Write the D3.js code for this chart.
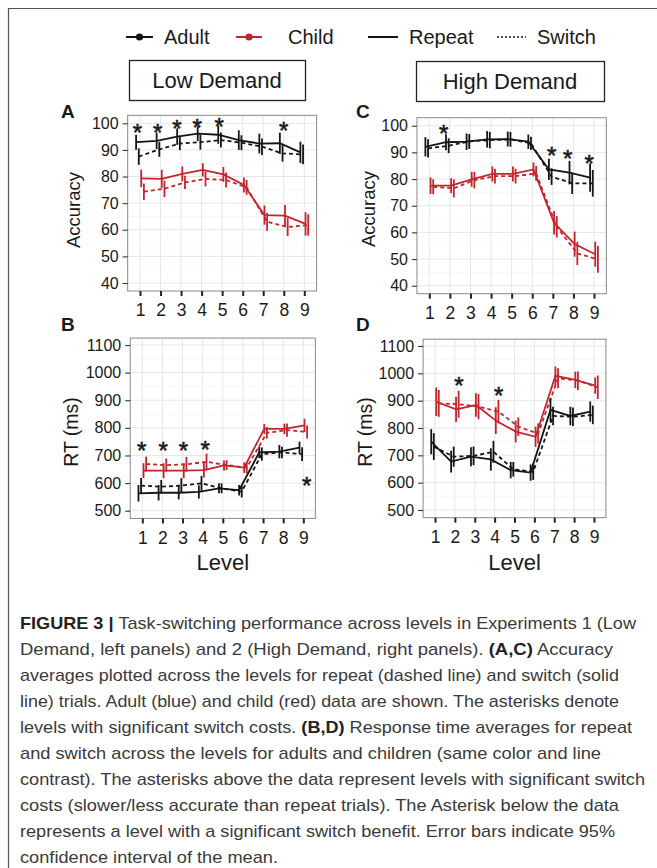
<!DOCTYPE html>
<html>
<head>
<meta charset="utf-8">
<script src="https://cdn.jsdelivr.net/npm/d3@7"></script>
<style>
  html, body { margin: 0; padding: 0; background: #fff; }
  svg { display: block; }
</style>
</head>
<body>
<svg id="chart" width="657" height="868"></svg>
<script>
// ---------------- DATA ----------------
const levels = [1, 2, 3, 4, 5, 6, 7, 8, 9];
const accTicks = [40, 50, 60, 70, 80, 90, 100];
const accMinor = [45, 55, 65, 75, 85, 95];
const rtTicks = [500, 600, 700, 800, 900, 1000, 1100];
const rtMinor = [550, 650, 750, 850, 950, 1050];

// Panel A: Low Demand, accuracy (%)
const accLowAdultRepeat   = [92.9, 93.4, 95.0, 96.1, 95.7, 93.7, 92.4, 92.5, 89.1];
const accLowAdultRepeatCI = [2.8, 3.1, 3.1, 2.8, 3.4, 3.7, 3.7, 4.0, 4.0];
const accLowAdultSwitch   = [87.5, 90.2, 92.4, 92.9, 93.7, 92.7, 91.2, 88.7, 88.3];
const accLowAdultSwitchCI = [3.1, 2.8, 2.5, 2.8, 2.8, 2.8, 3.1, 3.1, 3.7];
const accLowChildRepeat   = [79.3, 79.1, 81.0, 82.5, 80.8, 76.8, 65.5, 65.3, 62.2];
const accLowChildRepeatCI = [3.3, 3.4, 2.8, 2.5, 2.8, 2.8, 3.6, 4.0, 4.4];
const accLowChildSwitch   = [74.3, 75.4, 77.8, 79.1, 78.7, 75.9, 63.0, 61.0, 61.8];
const accLowChildSwitchCI = [3.1, 3.1, 2.5, 2.8, 2.8, 2.8, 3.4, 3.4, 4.0];
const starsALevel = [0.87, 1.86, 2.8, 3.78, 4.85, 8.0];
const starsAValue = [98.7, 98.7, 99.9, 100.3, 100.8, 99.4];

// Panel C: High Demand, accuracy (%)
const accHighAdultRepeat   = [92.1, 93.8, 94.0, 94.9, 95.0, 94.0, 83.6, 82.4, 80.5];
const accHighAdultRepeatCI = [3.6, 3.0, 3.1, 3.1, 2.8, 2.7, 4.0, 4.4, 5.3];
const accHighAdultSwitch   = [91.5, 92.5, 94.1, 94.6, 94.9, 93.4, 80.9, 78.4, 78.4];
const accHighAdultSwitchCI = [3.4, 2.8, 2.8, 3.1, 2.8, 2.5, 3.1, 4.0, 5.0];
const accHighChildRepeat   = [77.5, 77.5, 79.9, 81.9, 81.9, 83.6, 63.6, 55.6, 51.8];
const accHighChildRepeatCI = [3.1, 2.8, 2.8, 2.8, 2.8, 2.6, 4.4, 4.7, 4.7];
const accHighChildSwitch   = [77.1, 76.5, 79.6, 81.1, 81.1, 82.1, 62.1, 52.1, 49.9];
const accHighChildSwitchCI = [2.8, 3.4, 3.1, 2.8, 2.8, 2.8, 4.0, 4.4, 5.0];
const starsCLevel = [1.7, 6.95, 7.72, 8.77];
const starsCValue = [99.0, 90.9, 89.6, 87.8];

// Panel B: Low Demand, RT (ms)
const rtLowAdultRepeat   = [563, 565, 565, 568, 581, 574, 711, 714, 728];
const rtLowAdultRepeatCI = [30, 28, 24, 24, 18, 19, 21, 24, 22];
const rtLowAdultSwitch   = [591, 587, 591, 599, 581, 569, 705, 711, 705];
const rtLowAdultSwitchCI = [27, 24, 27, 27, 18, 21, 24, 21, 25];
const rtLowChildRepeat   = [645, 645, 645, 647, 664, 656, 796, 796, 809];
const rtLowChildRepeatCI = [27, 27, 27, 27, 18, 19, 18, 19, 24];
const rtLowChildSwitch   = [669, 665, 668, 677, 665, 656, 782, 792, 785];
const rtLowChildSwitchCI = [27, 24, 27, 30, 18, 21, 21, 24, 24];
const starsBLevel = [0.97, 2.04, 3.04, 4.12, 9.17];
const starsBValue = [738, 738, 738, 740, 611];

// Panel D: High Demand, RT (ms)
const rtHighAdultRepeat   = [750, 677, 695, 685, 646, 637, 866, 844, 860];
const rtHighAdultRepeatCI = [46, 40, 35, 41, 30, 30, 43, 34, 37];
const rtHighAdultSwitch   = [732, 695, 698, 713, 649, 640, 844, 841, 848];
const rtHighAdultSwitchCI = [49, 37, 34, 40, 27, 30, 34, 34, 34];
const rtHighChildRepeat   = [896, 868, 884, 827, 787, 768, 991, 976, 955];
const rtHighChildRepeatCI = [52, 46, 43, 49, 40, 37, 34, 30, 30];
const rtHighChildSwitch   = [890, 887, 878, 860, 805, 780, 982, 973, 949];
const rtHighChildSwitchCI = [49, 49, 46, 43, 34, 37, 37, 34, 43];
const starsDLevel = [2.2, 4.2];
const starsDValue = [976, 939];

const legendLabels = ["Adult", "Child", "Repeat", "Switch"];
const demandLabels = ["Low Demand", "High Demand"];

// ---------------- STYLE ----------------
const FONT = "'Liberation Sans', Arial, Helvetica, sans-serif";
const INK = "#1a1a1a";
const RED = "#c4252d";
const BLACK = "#151515";

const svg = d3.select("#chart");
svg.append("rect").attr("width", 657).attr("height", 868).attr("fill", "#fff");

// frame
svg.append("path").attr("d", "M8.5,868 L8.5,8.5 L657,8.5")
  .attr("fill", "none").attr("stroke", "#555").attr("stroke-width", 1.2);

// ---------------- LEGEND ----------------
const lg = svg.append("g").attr("font-family", FONT).attr("font-size", 20).attr("fill", INK);
const legY = 37;
const legendItems = [
  {label: legendLabels[0], x0: 126, x1: 153, color: BLACK, dot: true, dash: null, tx: 164},
  {label: legendLabels[1], x0: 236, x1: 262, color: RED, dot: true, dash: null, tx: 288},
  {label: legendLabels[2], x0: 368, x1: 398, color: BLACK, dot: false, dash: null, tx: 409},
  {label: legendLabels[3], x0: 497, x1: 526, color: BLACK, dot: false, dash: "2,2", tx: 537}
];
legendItems.forEach(it => {
  lg.append("line").attr("x1", it.x0).attr("x2", it.x1).attr("y1", legY).attr("y2", legY)
    .attr("stroke", it.color).attr("stroke-width", it.dash ? 1.5 : 2)
    .attr("stroke-dasharray", it.dash);
  if (it.dot) lg.append("circle").attr("cx", (it.x0 + it.x1) / 2).attr("cy", legY).attr("r", 3.6).attr("fill", it.color);
  lg.append("text").attr("x", it.tx).attr("y", legY + 7).text(it.label);
});

// ---------------- DEMAND BOXES ----------------
const boxes = [
  {label: demandLabels[0], x: 129, y: 60, w: 176, h: 40},
  {label: demandLabels[1], x: 416, y: 61, w: 188, h: 40}
];
boxes.forEach(b => {
  svg.append("rect").attr("x", b.x + 0.5).attr("y", b.y + 0.5).attr("width", b.w).attr("height", b.h)
    .attr("fill", "#fff").attr("stroke", "#222").attr("stroke-width", 1.3);
  svg.append("text").attr("x", b.x + b.w / 2).attr("y", b.y + b.h / 2 + 8)
    .attr("text-anchor", "middle").attr("font-family", FONT).attr("font-size", 22).attr("fill", INK)
    .text(b.label);
});

// ---------------- PANELS ----------------
const STAR_SIZE = 24;
function drawPanel(p) {
  const x = d3.scaleLinear().domain([1, 9]).range([p.x1, p.x9]);
  const y = d3.scaleLinear().domain([p.lo, p.hi]).range([p.yLo, p.yHi]);
  const left = x(0.4), right = x(9.6), top = y(p.top), bottom = y(p.bottom);
  const g = svg.append("g");

  // background & grid
  g.append("rect").attr("x", left).attr("y", top).attr("width", right - left).attr("height", bottom - top).attr("fill", "#fff");
  g.selectAll(".minor").data(p.minor).join("line")
    .attr("x1", left).attr("x2", right).attr("y1", d => y(d)).attr("y2", d => y(d))
    .attr("stroke", "#f2f2f2").attr("stroke-width", 0.6);
  g.selectAll(".majy").data(p.ticks).join("line")
    .attr("x1", left).attr("x2", right).attr("y1", d => y(d)).attr("y2", d => y(d))
    .attr("stroke", "#e6e6e6").attr("stroke-width", 1);
  g.selectAll(".majx").data(levels).join("line")
    .attr("x1", d => x(d)).attr("x2", d => x(d)).attr("y1", top).attr("y2", bottom)
    .attr("stroke", "#e6e6e6").attr("stroke-width", 1);

  // series
  p.series.forEach(s => {
    const pts = levels.map((lv, i) => ({lx: lv + s.off, v: s.vals[i], e: s.ci[i]}));
    const line = d3.line().x(d => x(d.lx)).y(d => y(d.v));
    g.append("path").datum(pts).attr("d", line).attr("fill", "none")
      .attr("stroke", s.color).attr("stroke-width", 1.8).attr("stroke-dasharray", s.dash);
    g.selectAll(null).data(pts).join("line")
      .attr("x1", d => x(d.lx)).attr("x2", d => x(d.lx))
      .attr("y1", d => y(d.v - d.e)).attr("y2", d => y(d.v + d.e))
      .attr("stroke", s.color).attr("stroke-width", 1.8);
  });

  // border
  g.append("rect").attr("x", left).attr("y", top).attr("width", right - left).attr("height", bottom - top)
    .attr("fill", "none").attr("stroke", "#8a8a8a").attr("stroke-width", 1);

  // stars
  const stars = p.starLevels.map((lv, i) => ({lv, v: p.starValues[i]}));
  g.selectAll(null).data(stars).join("text")
    .attr("x", d => x(d.lv)).attr("y", d => y(d.v) + STAR_SIZE * 0.58)
    .attr("text-anchor", "middle").attr("font-family", FONT).attr("font-size", STAR_SIZE)
    .attr("fill", INK).attr("stroke", INK).attr("stroke-width", 0.6)
    .text("*");

  // axes
  const ya = g.append("g").attr("transform", `translate(${left},0)`)
    .call(d3.axisLeft(y).tickValues(p.ticks).tickSize(5).tickPadding(4).tickFormat(d3.format("d")));
  ya.select(".domain").remove();
  ya.selectAll("line").attr("stroke", "#333").attr("stroke-width", 1.1);
  ya.selectAll("text").attr("font-family", FONT).attr("font-size", p.yFont).attr("fill", INK);

  const xa = g.append("g").attr("transform", `translate(0,${bottom})`)
    .call(d3.axisBottom(x).tickValues(levels).tickSize(5).tickPadding(8).tickFormat(d3.format("d")));
  xa.select(".domain").remove();
  xa.selectAll("line").attr("stroke", "#222").attr("stroke-width", 2);
  xa.selectAll("text").attr("font-family", FONT).attr("font-size", 17.5).attr("fill", INK);

  // axis title
  g.append("text").attr("transform", `translate(${p.titleX},${p.titleY}) rotate(-90)`)
    .attr("text-anchor", "middle").attr("font-family", FONT).attr("font-size", p.titleFont).attr("fill", INK)
    .text(p.title);
  if (p.xTitle) {
    g.append("text").attr("x", (x(1) + x(9)) / 2).attr("y", bottom + 52)
      .attr("text-anchor", "middle").attr("font-family", FONT).attr("font-size", 22).attr("fill", INK)
      .text(p.xTitle);
  }
  // panel letter
  g.append("text").attr("x", p.letterX).attr("y", p.letterY)
    .attr("font-family", FONT).attr("font-weight", "bold").attr("font-size", 19).attr("fill", INK)
    .text(p.letter);
}

function mkSeries(ar, arci, as, asci, cr, crci, cs, csci) {
  return [
    {vals: cr, ci: crci, color: RED, dash: null, off: 0.06},
    {vals: cs, ci: csci, color: RED, dash: "4,3", off: 0.19},
    {vals: ar, ci: arci, color: BLACK, dash: null, off: -0.19},
    {vals: as, ci: asci, color: BLACK, dash: "4,3", off: -0.06}
  ];
}

const panelDefs = [
  {letter: "A", letterX: 61, letterY: 118, x1: 140, x9: 304.3, yLo: 283, yHi: 123.3, lo: 40, hi: 100, top: 103, bottom: 37,
   ticks: accTicks, minor: accMinor, yFont: 16, title: "Accuracy", titleX: 80, titleY: 210, titleFont: 18.5,
   starLevels: starsALevel, starValues: starsAValue,
   series: mkSeries(accLowAdultRepeat, accLowAdultRepeatCI, accLowAdultSwitch, accLowAdultSwitchCI,
                    accLowChildRepeat, accLowChildRepeatCI, accLowChildSwitch, accLowChildSwitchCI)},
  {letter: "C", letterX: 356, letterY: 118, x1: 429.3, x9: 594, yLo: 285.7, yHi: 125.7, lo: 40, hi: 100, top: 103, bottom: 37,
   ticks: accTicks, minor: accMinor, yFont: 16, title: "Accuracy", titleX: 375, titleY: 209, titleFont: 18.5,
   starLevels: starsCLevel, starValues: starsCValue,
   series: mkSeries(accHighAdultRepeat, accHighAdultRepeatCI, accHighAdultSwitch, accHighAdultSwitchCI,
                    accHighChildRepeat, accHighChildRepeatCI, accHighChildSwitch, accHighChildSwitchCI)},
  {letter: "B", letterX: 61, letterY: 331, x1: 142.3, x9: 303.3, yLo: 510.7, yHi: 345, lo: 500, hi: 1100, top: 1125, bottom: 472,
   ticks: rtTicks, minor: rtMinor, yFont: 16, title: "RT (ms)", titleX: 77.5, titleY: 432, titleFont: 19.5, xTitle: "Level",
   starLevels: starsBLevel, starValues: starsBValue,
   series: mkSeries(rtLowAdultRepeat, rtLowAdultRepeatCI, rtLowAdultSwitch, rtLowAdultSwitchCI,
                    rtLowChildRepeat, rtLowChildRepeatCI, rtLowChildSwitch, rtLowChildSwitchCI)},
  {letter: "D", letterX: 356, letterY: 331, x1: 435, x9: 594, yLo: 510, yHi: 346, lo: 500, hi: 1100, top: 1125, bottom: 472,
   ticks: rtTicks, minor: rtMinor, yFont: 16, title: "RT (ms)", titleX: 371.5, titleY: 432, titleFont: 19.5, xTitle: "Level",
   starLevels: starsDLevel, starValues: starsDValue,
   series: mkSeries(rtHighAdultRepeat, rtHighAdultRepeatCI, rtHighAdultSwitch, rtHighAdultSwitchCI,
                    rtHighChildRepeat, rtHighChildRepeatCI, rtHighChildSwitch, rtHighChildSwitchCI)}
];
panelDefs.forEach(drawPanel);

// ---------------- CAPTION ----------------
const captionLines = [
  [["FIGURE 3 | ", true], ["Task-switching performance across levels in Experiments 1 (Low", false]],
  [["Demand, left panels) and 2 (High Demand, right panels). ", false], ["(A,C)", true], [" Accuracy", false]],
  [["averages plotted across the levels for repeat (dashed line) and switch (solid", false]],
  [["line) trials. Adult (blue) and child (red) data are shown. The asterisks denote", false]],
  [["levels with significant switch costs. ", false], ["(B,D)", true], [" Response time averages for repeat", false]],
  [["and switch across the levels for adults and children (same color and line", false]],
  [["contrast). The asterisks above the data represent levels with significant switch", false]],
  [["costs (slower/less accurate than repeat trials). The Asterisk below the data", false]],
  [["represents a level with a significant switch benefit. Error bars indicate 95%", false]],
  [["confidence interval of the mean.", false]]
];
const captionWidths = [616, 593, 599, 599, 612, 581, 625, 599, 595, 258];
const cap = svg.append("g").attr("font-family", "'Liberation Sans Narrow', 'Liberation Sans', Arial, sans-serif")
  .attr("font-size", 17).attr("fill", "#3a3a3a");
captionLines.forEach((segs, i) => {
  const t = cap.append("text").attr("x", 20).attr("y", 629 + i * 26)
    .attr("textLength", captionWidths[i]).attr("lengthAdjust", "spacingAndGlyphs")
    .attr("xml:space", "preserve").style("white-space", "pre");
  segs.forEach(([txt, bold]) => {
    t.append("tspan").attr("font-weight", bold ? "bold" : "normal").attr("fill", bold ? "#222" : null).text(txt);
  });
});
</script>
</body>
</html>
